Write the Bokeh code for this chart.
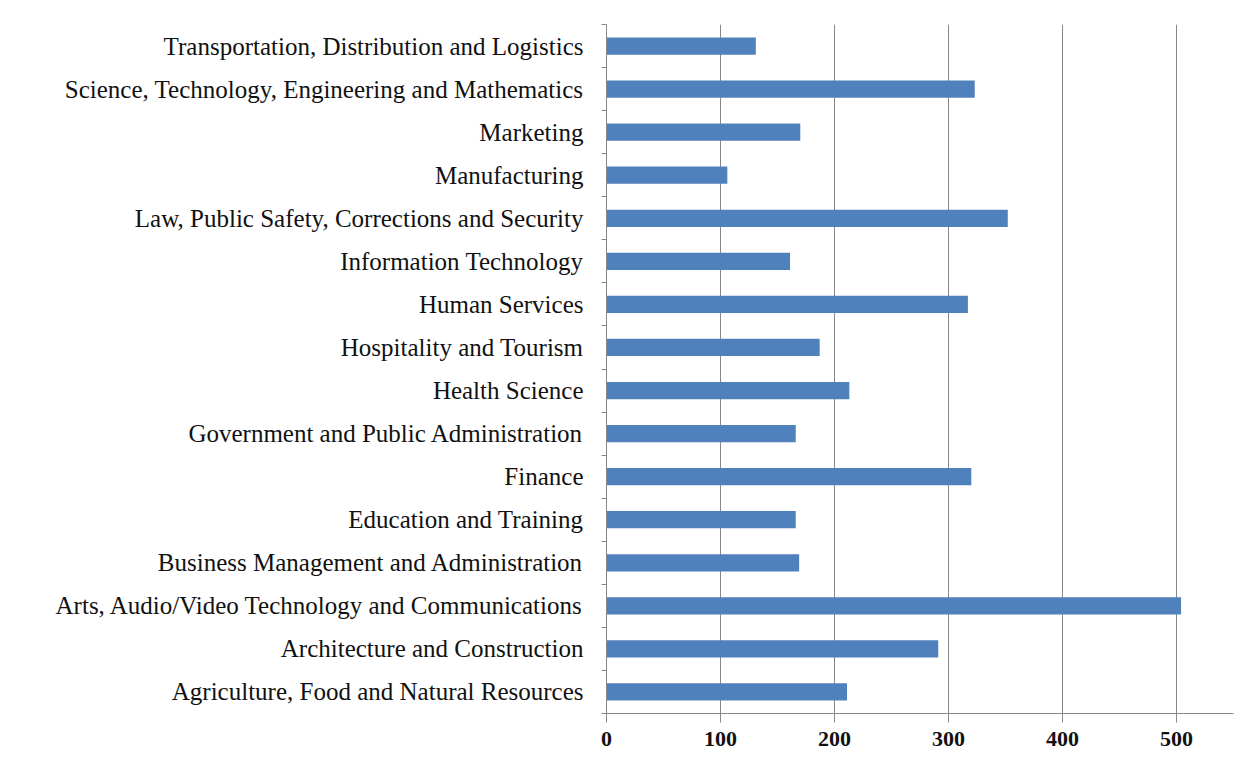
from bokeh.plotting import figure
from bokeh.models import FixedTicker, Range1d, ColumnDataSource
from bokeh.embed import file_html
from bokeh.resources import INLINE

# bottom to top
categories = [
    "Agriculture, Food and Natural Resources",
    "Architecture and Construction",
    "Arts, Audio/Video Technology and Communications",
    "Business Management and Administration",
    "Education and Training",
    "Finance",
    "Government and Public Administration",
    "Health Science",
    "Hospitality and Tourism",
    "Human Services",
    "Information Technology",
    "Law, Public Safety, Corrections and Security",
    "Manufacturing",
    "Marketing",
    "Science, Technology, Engineering and Mathematics",
    "Transportation, Distribution and Logistics",
]
values = [211, 291, 504, 169, 166, 320, 166, 213, 187, 317, 161, 352, 106, 170, 323, 131]
x_ticks = [0, 100, 200, 300, 400, 500]

n = len(categories)
centers = [i + 0.5 for i in range(n)]
src = ColumnDataSource(dict(y=centers, right=values))

p = figure(width=1245, height=750, output_backend="svg", toolbar_location=None,
           x_range=Range1d(0, 550), y_range=Range1d(0, n),
           min_border_left=606, min_border_right=12, min_border_top=24, min_border_bottom=37)
p.outline_line_color = None
p.background_fill_color = "white"
p.border_fill_color = "white"

p.hbar(y="y", right="right", left=0, height=0.4, source=src,
       fill_color="#4f81bd", line_color=None)

# x axis
p.xaxis.ticker = FixedTicker(ticks=x_ticks)
p.xaxis.axis_line_color = "#878787"
p.xaxis.major_tick_line_color = "#878787"
p.xaxis.major_tick_in = 0
p.xaxis.major_tick_out = 9
p.xaxis.minor_tick_line_color = None
p.xaxis.major_label_text_font = "Liberation Serif"
p.xaxis.major_label_text_font_style = "bold"
p.xaxis.major_label_text_font_size = "22px"
p.xaxis.major_label_text_color = "#111111"
p.xaxis.major_label_standoff = 9

# y axis: labels at centers, ticks at boundaries
p.yaxis.ticker = FixedTicker(ticks=centers, minor_ticks=list(range(n + 1)))
p.yaxis.major_label_overrides = {c: lab for c, lab in zip(centers, categories)}
p.yaxis.axis_line_color = "#878787"
p.yaxis.major_tick_line_color = None
p.yaxis.major_tick_in = 0
p.yaxis.major_tick_out = 5
p.yaxis.minor_tick_line_color = "#878787"
p.yaxis.minor_tick_in = 0
p.yaxis.minor_tick_out = 5
p.yaxis.major_label_text_font = "Liberation Serif"
p.yaxis.major_label_text_font_size = "25px"
p.yaxis.major_label_text_color = "#111111"
p.yaxis.major_label_standoff = 18

p.xgrid.ticker = FixedTicker(ticks=x_ticks[1:])
p.xgrid.grid_line_color = "#878787"
p.xgrid.grid_line_width = 1
p.ygrid.grid_line_color = None

open("out.html", "w").write(file_html(p, INLINE))
